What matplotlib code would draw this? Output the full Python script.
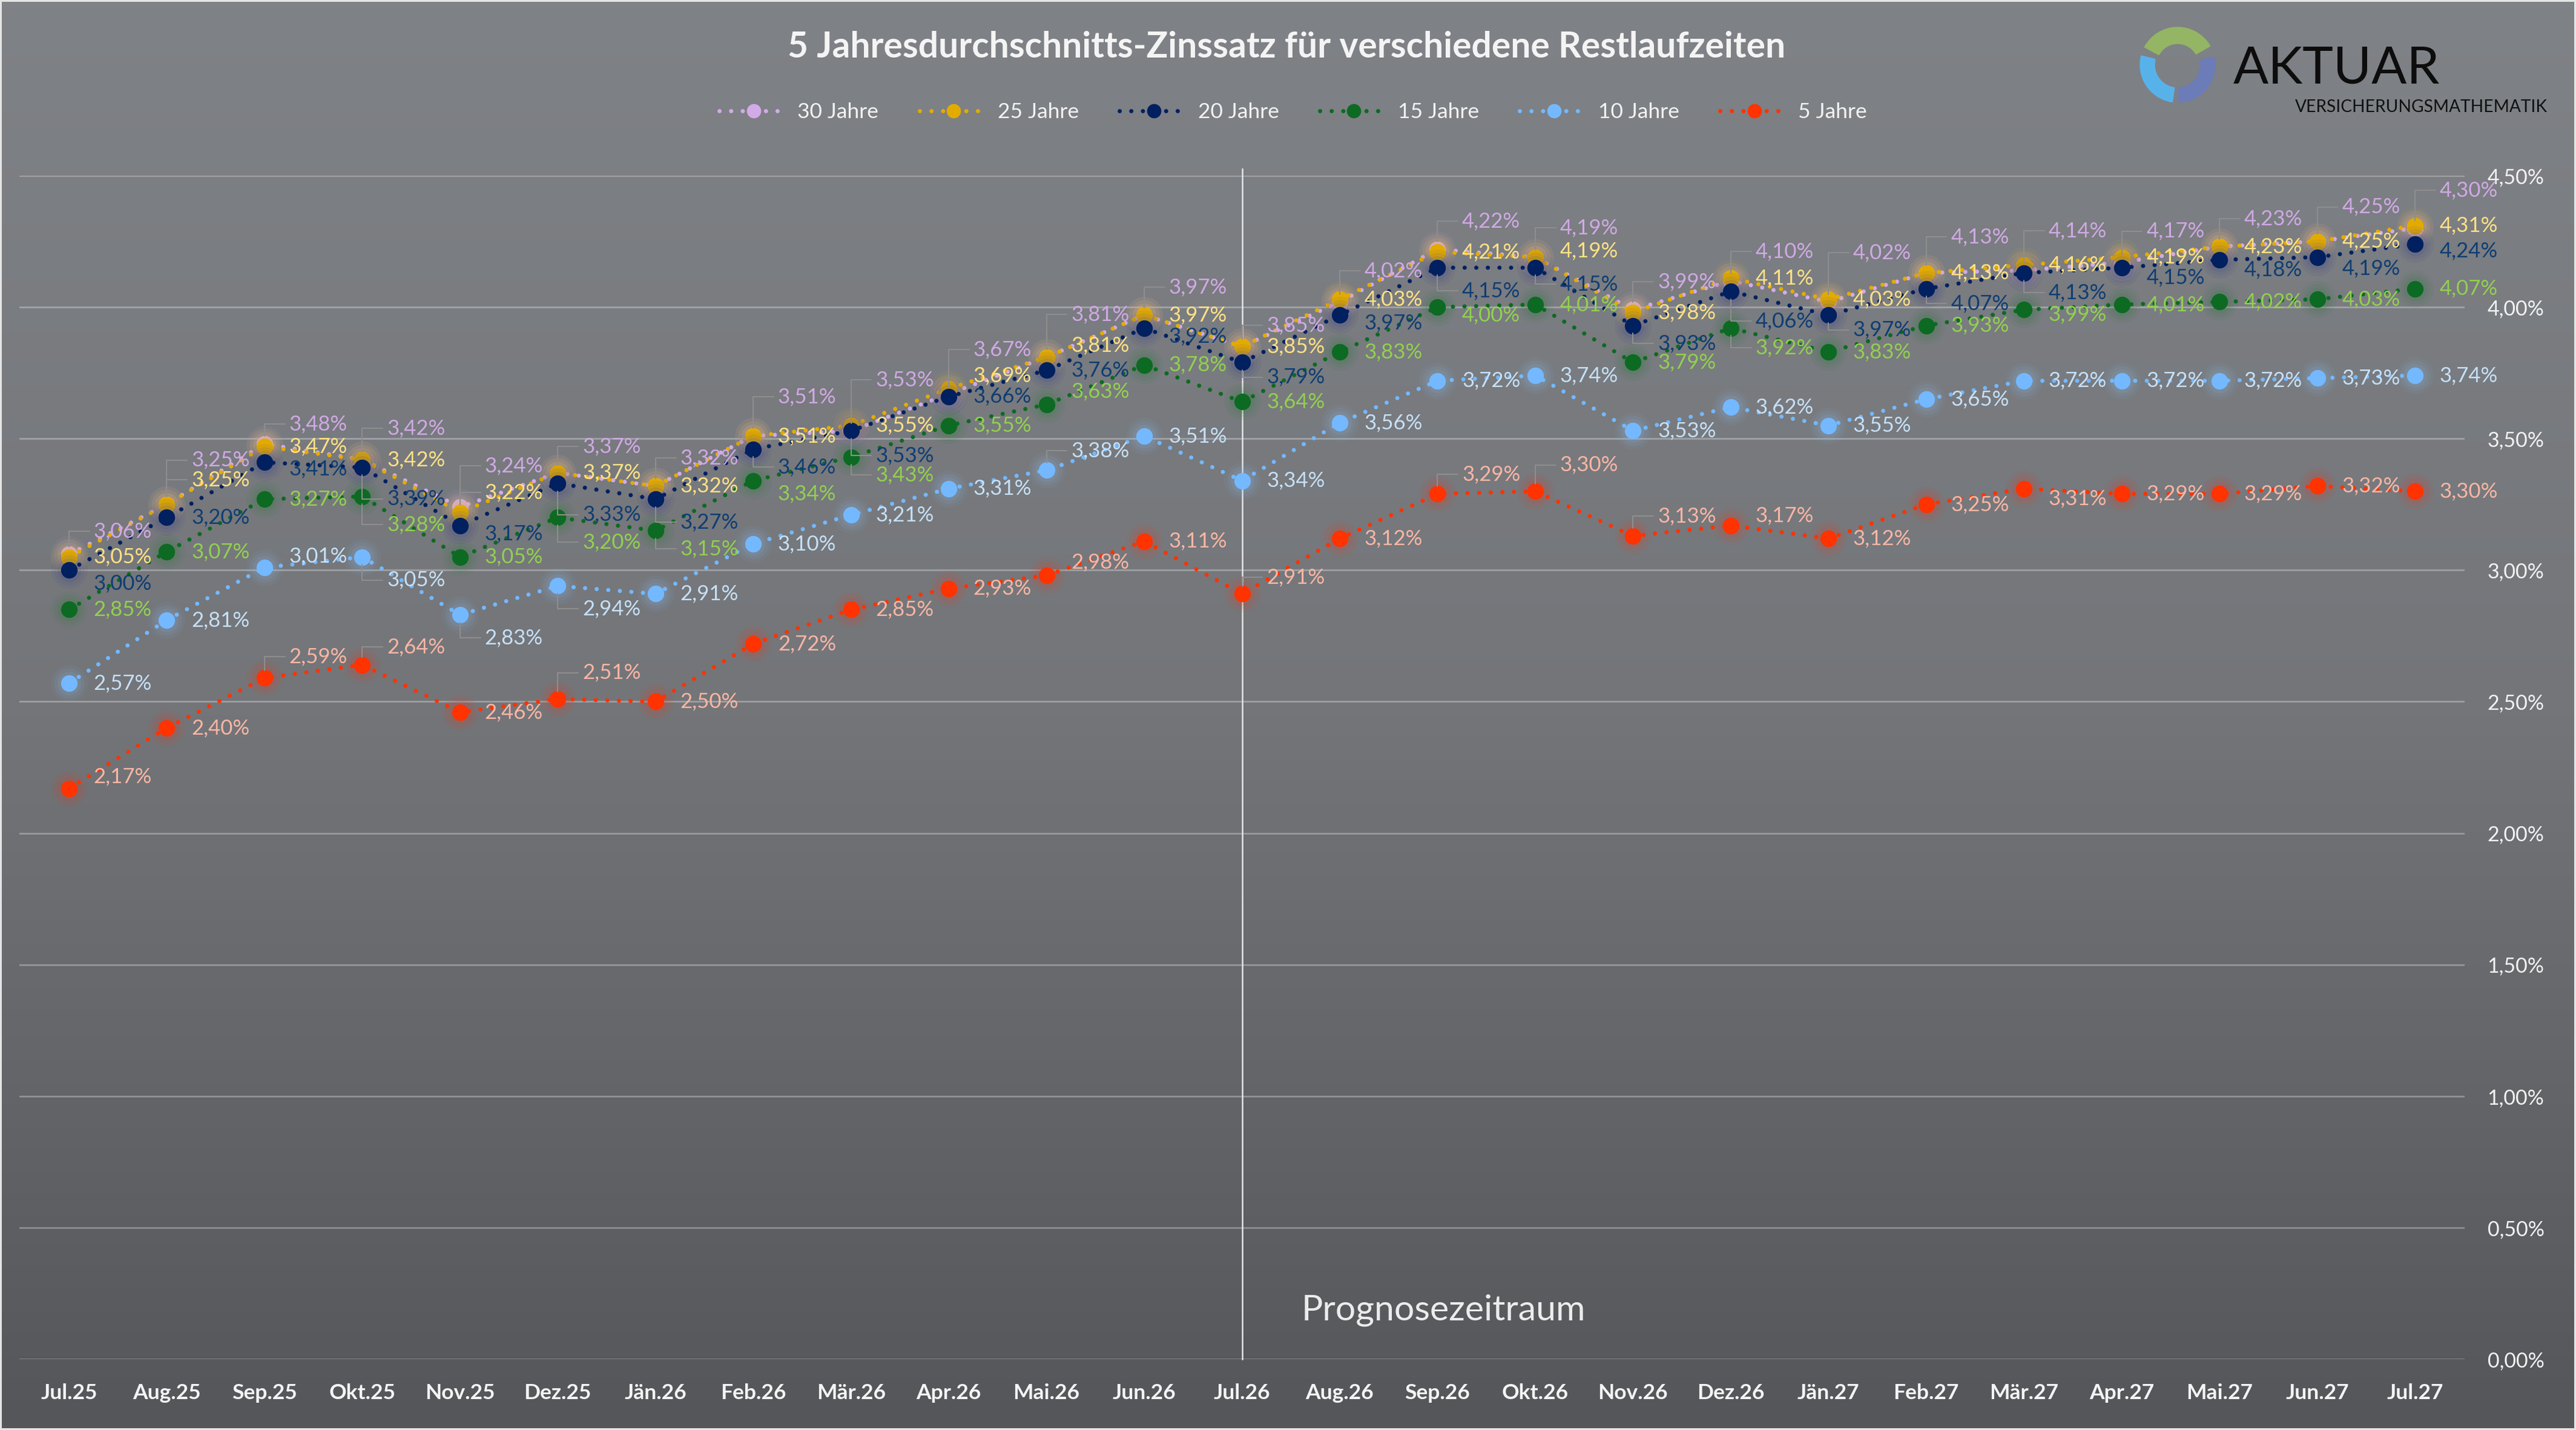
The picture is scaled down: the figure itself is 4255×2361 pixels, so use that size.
import numpy as np
import matplotlib
matplotlib.use('Agg')
import matplotlib.pyplot as plt
from matplotlib.colors import LinearSegmentedColormap
from matplotlib.patches import Wedge
from matplotlib.lines import Line2D

plt.rcParams['font.family'] = ['Lato', 'DejaVu Sans']

# Daten (Werte in %)
monate = ['Jul.25', 'Aug.25', 'Sep.25', 'Okt.25', 'Nov.25', 'Dez.25', 'Jän.26', 'Feb.26',
          'Mär.26', 'Apr.26', 'Mai.26', 'Jun.26', 'Jul.26', 'Aug.26', 'Sep.26', 'Okt.26',
          'Nov.26', 'Dez.26', 'Jän.27', 'Feb.27', 'Mär.27', 'Apr.27', 'Mai.27', 'Jun.27', 'Jul.27']
j30 = [3.06, 3.25, 3.48, 3.42, 3.24, 3.37, 3.32, 3.51, 3.53, 3.67, 3.81, 3.97, 3.85,
       4.02, 4.22, 4.19, 3.99, 4.10, 4.02, 4.13, 4.14, 4.17, 4.23, 4.25, 4.30]
j25 = [3.05, 3.25, 3.47, 3.42, 3.22, 3.37, 3.32, 3.51, 3.55, 3.69, 3.81, 3.97, 3.85,
       4.03, 4.21, 4.19, 3.98, 4.11, 4.03, 4.13, 4.16, 4.19, 4.23, 4.25, 4.31]
j20 = [3.00, 3.20, 3.41, 3.39, 3.17, 3.33, 3.27, 3.46, 3.53, 3.66, 3.76, 3.92, 3.79,
       3.97, 4.15, 4.15, 3.93, 4.06, 3.97, 4.07, 4.13, 4.15, 4.18, 4.19, 4.24]
j15 = [2.85, 3.07, 3.27, 3.28, 3.05, 3.20, 3.15, 3.34, 3.43, 3.55, 3.63, 3.78, 3.64,
       3.83, 4.00, 4.01, 3.79, 3.92, 3.83, 3.93, 3.99, 4.01, 4.02, 4.03, 4.07]
j10 = [2.57, 2.81, 3.01, 3.05, 2.83, 2.94, 2.91, 3.10, 3.21, 3.31, 3.38, 3.51, 3.34,
       3.56, 3.72, 3.74, 3.53, 3.62, 3.55, 3.65, 3.72, 3.72, 3.72, 3.73, 3.74]
j5 = [2.17, 2.40, 2.59, 2.64, 2.46, 2.51, 2.50, 2.72, 2.85, 2.93, 2.98, 3.11, 2.91,
      3.12, 3.29, 3.30, 3.13, 3.17, 3.12, 3.25, 3.31, 3.29, 3.29, 3.32, 3.30]

# Verschiebung der Beschriftungen (Pixel im Referenzbild, positiv = nach unten)
dy30 = [-14, -27, -12, -19, -25, -16, -17, -24, -31, -27, -26, -17, -13, -19, -17, -18, -17, -18, -30, -22, -24, -19, -17, -21, -23]
dy25 = [0, -15, 0, 0, -12, 0, 0, 0, 0, -8, -7, 0, 0, 0, 0, -4, 0, 0, 0, 0, 0, 0, 0, 0, 0]
dy20 = [8, 0, 4, 19, 5, 19, 14, 11, 15, 0, 0, 5, 9, 5, 14, 10, 11, 18, 9, 9, 12, 6, 6, 7, 4]
dy15 = [0, 0, 0, 17, 0, 15, 11, 8, 11, 0, -8, 0, 0, 0, 5, 0, 0, 12, 0, 0, 3, 0, 0, 0, 0]
dy10 = [0, 0, -7, 14, 14, 14, 0, 0, 0, 0, -12, 0, 0, 0, 0, 0, 0, 0, 0, 0, 0, 0, 0, 0, 0]
dy5 = [-7, 0, -13, -11, 0, -16, 0, 0, 0, 0, -8, 0, -10, 0, -12, -16, -12, -6, 0, 0, 6, 0, 0, 0, 0]

serien = [
    ('30 Jahre', j30, '#d3aae8', '#d3aae8', '#d0a9e4', dy30),
    ('25 Jahre', j25, '#e3ab00', '#e8b830', '#ffe184', dy25),
    ('20 Jahre', j20, '#002060', '#3a3f8c', '#0f3d72', dy20),
    ('15 Jahre', j15, '#0d6a22', '#2f7a3c', '#92d050', dy15),
    ('10 Jahre', j10, '#74b8ff', '#8ab8e8', '#c6e0f6', dy10),
    ('5 Jahre', j5, '#ff3300', '#e0402a', '#f9b6a4', dy5),
]

W, H, DPI = 4255, 2361, 100
REF = 4255 / 1568 * 72 / DPI   # Referenzpixel -> Punkte

fig = plt.figure(figsize=(W / DPI, H / DPI), dpi=DPI)
fig.patch.set_facecolor('#e4e4e4')

# Hintergrund mit Verlauf
bg = fig.add_axes([3 / W, 3 / H, 1 - 6 / W, 1 - 6 / H], zorder=-10)
cmap = LinearSegmentedColormap.from_list('bg', ['#7f8286', '#737579', '#545659'])
bg.imshow(np.linspace(0, 1, 256).reshape(-1, 1), aspect='auto', cmap=cmap, extent=[0, 1, 0, 1])
bg.axis('off')

ax = fig.add_axes([32 / W, 117 / H, (4071 - 32) / W, (2244 - 290) / H])
ax.set_facecolor('none')
ax.set_xlim(-0.508, 24.508)
ax.set_ylim(0, 4.5)
for s in ax.spines.values():
    s.set_visible(False)

yt = np.arange(0, 4.51, 0.5)
ax.set_yticks(yt)
ax.set_yticklabels([f'{v:.2f}%'.replace('.', ',') for v in yt])
ax.yaxis.tick_right()
ax.tick_params(axis='y', length=0, pad=27, labelsize=24.5, labelcolor='#f2f2f2')
x = np.arange(len(monate))
ax.set_xticks(x)
ax.set_xticklabels(monate, fontweight='bold')
ax.tick_params(axis='x', length=0, pad=29, labelsize=25.5, labelcolor='#f4f4f4')
ax.grid(axis='y', color='white', alpha=0.3, lw=2)
ax.set_axisbelow(True)

# Trennlinie Prognose
ax.plot([12, 12], [0, 4.525], color='#e6e6e6', lw=1.8, clip_on=False, zorder=1)

dots = (0, (0.01, 2.75))
handles = []
for k, (name, werte, c, glow, lc, dys) in enumerate(serien):
    z = 3 + k
    for ms, a in [(44, 0.07), (36, 0.09), (28, 0.12)]:
        ax.plot(x, werte, 'o', ms=ms, color=glow, alpha=a, mec='none', zorder=z)
    ax.plot(x, werte, color=c, lw=5, ls=dots, dash_capstyle='round',
            marker='o', ms=18.7, mec=c, mfc=c, zorder=z)
    handles.append(Line2D([], [], color=c, lw=5, ls=dots, dash_capstyle='round',
                          marker='o', ms=16, mec=c, mfc=c, label=name))
    for i, v in enumerate(werte):
        d = dys[i]
        leader = abs(d) >= 9
        ap = None
        if leader:
            ap = dict(arrowstyle='-', color='#8e8e8e', lw=1.5, shrinkA=3, shrinkB=9,
                      connectionstyle='angle,angleA=180,angleB=90,rad=0', relpos=(0, 0.5))
        ax.annotate(f'{v:.2f}%'.replace('.', ','), (i, v), xytext=(15 * REF, -d * REF),
                    textcoords='offset points', ha='left', va='center', color=lc,
                    fontsize=25, arrowprops=ap, zorder=20)

fig.legend(handles=handles, loc='center', bbox_to_anchor=(0.502, 1 - 185 / H), ncol=6,
           frameon=False, fontsize=25.5, labelcolor='#f2f2f2', handlelength=3.2,
           handletextpad=0.45, columnspacing=1.9)

r = fig.canvas.get_renderer()


def fit_width(t, target):
    w = t.get_window_extent(r).width
    t.set_fontsize(t.get_fontsize() * target / w)


titel = fig.text(2125 / W, 1 - 95 / H, '5 Jahresdurchschnitts-Zinssatz für verschiedene Restlaufzeiten',
                 ha='center', va='baseline', fontsize=40, fontweight='bold', color='#f4f4f4')
fit_width(titel, 1647)

prog = fig.text(2150 / W, 1 - 2180 / H, 'Prognosezeitraum', ha='left', va='baseline',
                fontsize=38, color='#ececec')
fit_width(prog, 470)

# Logo
lg = fig.add_axes([0, 0, 1, 1], zorder=5)
lg.set_xlim(0, W)
lg.set_ylim(0, H)
lg.axis('off')
cx, cy = 3597, H - 107
lg.add_patch(Wedge((cx, cy), 62, 30, 152, width=27, color='#94b564'))
lg.add_patch(Wedge((cx, cy), 62, 166, 262, width=24, color='#58b2ea'))
lg.add_patch(Wedge((cx, cy), 62, -88, 12, width=24, color='#6c7cb8'))
akt = fig.text(3689 / W, 1 - 137 / H, 'AKTUAR', ha='left', va='baseline', fontsize=67, color='#0d0d0d')
fit_width(akt, 341)
vm = fig.text(3791 / W, 1 - 185 / H, 'VERSICHERUNGSMATHEMATIK', ha='left', va='baseline',
              fontsize=22, color='#111111')
fit_width(vm, 414)

fig.savefig('out.png', dpi=DPI)
